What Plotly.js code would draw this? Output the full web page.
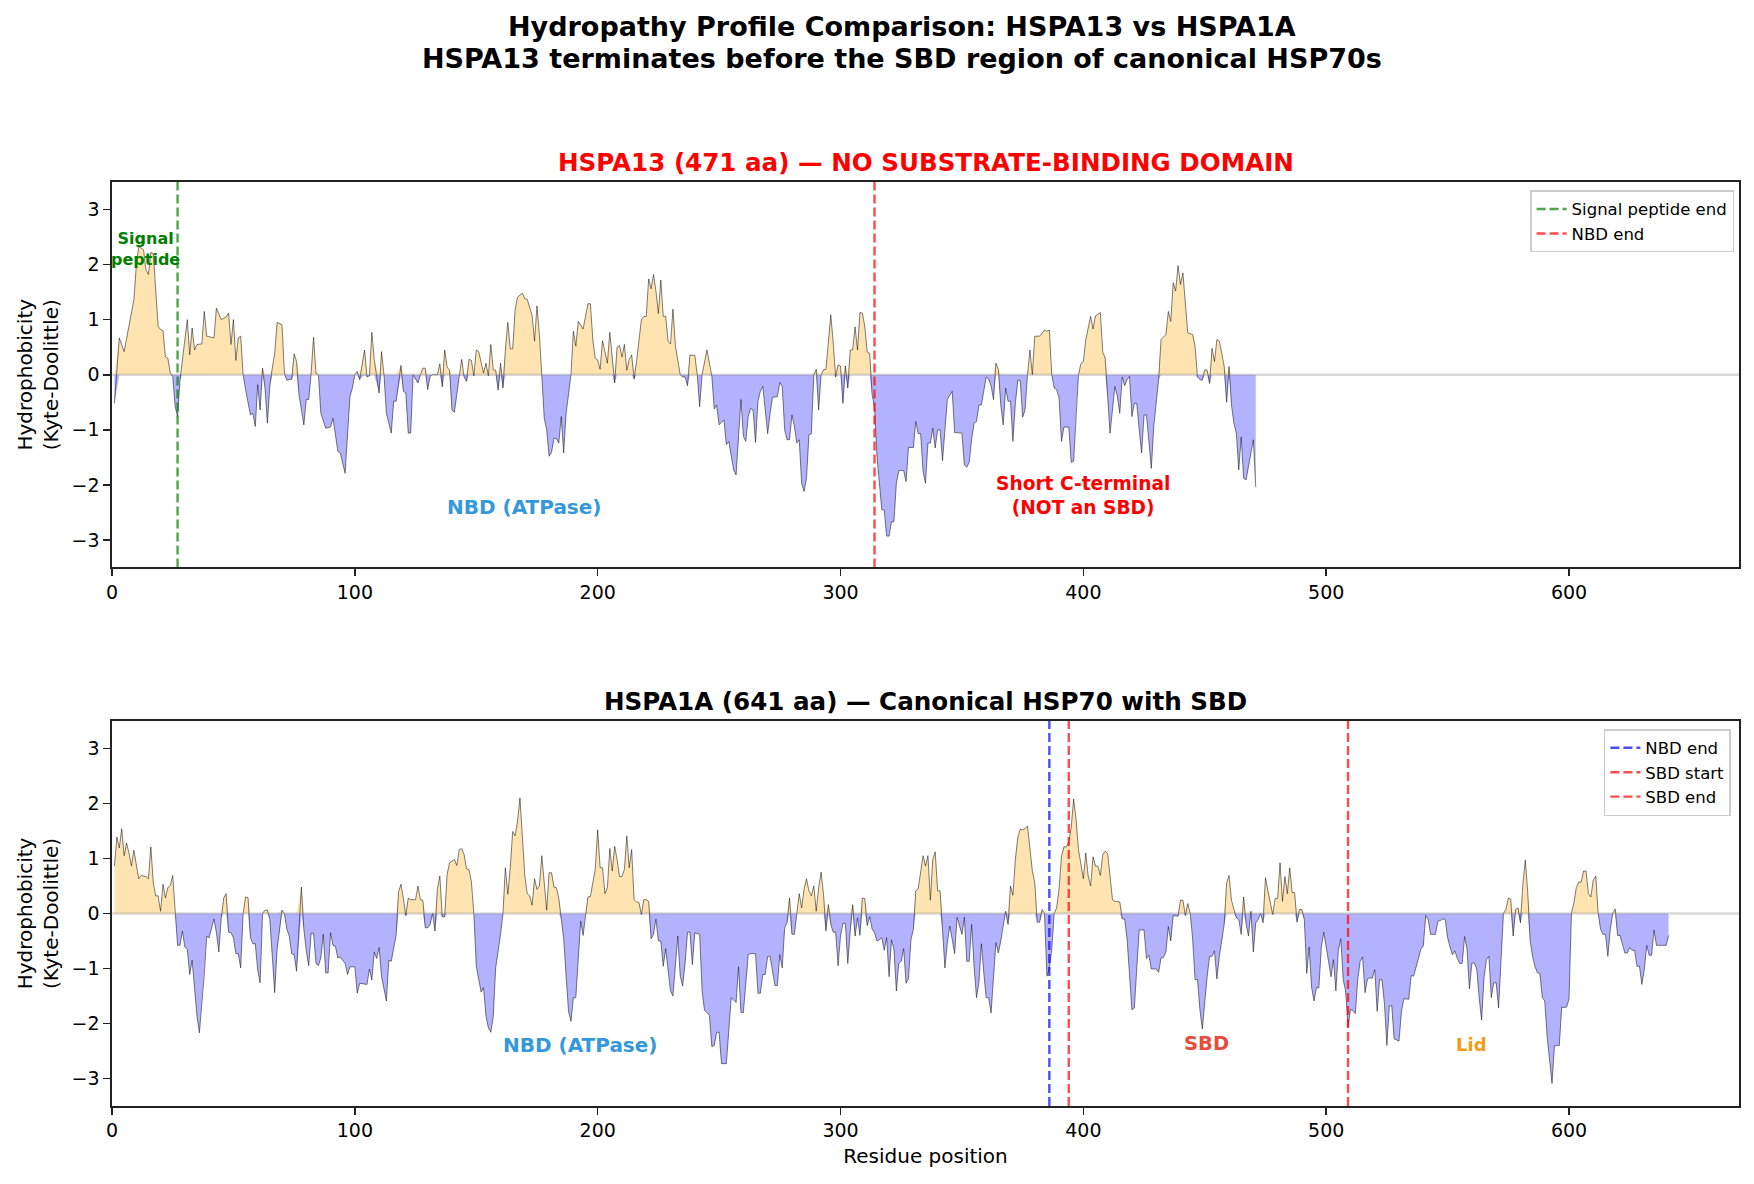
<!DOCTYPE html>
<html>
<head>
<meta charset="utf-8">
<script src="https://cdn.plot.ly/plotly-3.0.1.min.js"></script>
<style>body{margin:0;background:#fff}</style>
</head>
<body>
<div id="plot" style="width:1754px;height:1184px"></div>
<script>
// Kyte-Doolittle profiles: [residue, hydrophobicity]
const hspa13Profile = [[1,-0.52],[3,0.67],[5,0.42],[7,0.91],[9,1.36],[10,1.97],[11,2.33],[13,2.27],[14,1.9],[15,1.82],[16,2.22],[17,2.2],[19,0.88],[20,0.82],[21,0.8],[22,0.32],[23,0.3],[24,0.03],[25,-0.03],[26,-0.58],[27,-0.76],[28,-0.1],[29,0.24],[31,1.0],[32,0.36],[33,0.85],[34,0.45],[35,0.55],[37,0.56],[38,1.15],[39,0.7],[42,0.67],[43,1.21],[45,1.0],[47,1.05],[48,1.12],[49,0.55],[50,1.0],[51,0.26],[52,0.67],[53,0.7],[54,0.0],[55,-0.27],[57,-0.73],[58,-0.7],[59,-0.94],[60,-0.18],[61,-0.64],[62,0.12],[63,-0.24],[64,-0.88],[65,-0.21],[66,0.12],[67,0.39],[68,0.95],[70,0.91],[71,0.03],[72,-0.1],[74,-0.08],[75,0.38],[76,0.24],[77,-0.36],[79,-0.91],[80,-0.45],[81,-0.45],[82,0.03],[83,0.68],[84,0.03],[85,0.0],[86,-0.7],[88,-0.97],[90,-0.95],[91,-0.79],[93,-1.39],[94,-1.42],[96,-1.79],[98,-0.39],[99,-0.24],[100,0.0],[101,0.06],[102,-0.09],[104,0.45],[105,-0.04],[106,-0.02],[107,0.77],[108,0.27],[110,-0.33],[111,0.42],[112,0.0],[113,-0.7],[115,-1.06],[116,-0.48],[117,-0.48],[119,0.17],[120,-0.3],[121,-0.33],[122,-1.06],[123,-1.06],[124,0.0],[125,-0.09],[126,-0.15],[127,0.0],[128,0.12],[129,0.12],[130,-0.27],[131,-0.03],[132,0.0],[134,0.0],[135,0.2],[136,-0.22],[137,0.45],[138,0.14],[139,0.08],[140,-0.64],[141,-0.68],[143,-0.03],[144,0.28],[145,-0.04],[146,-0.12],[147,0.28],[148,0.26],[149,-0.02],[150,0.45],[151,0.42],[153,0.03],[154,0.21],[155,-0.02],[156,0.55],[157,0.09],[158,0.08],[159,-0.28],[160,0.21],[161,-0.24],[162,0.45],[163,0.95],[164,0.47],[165,0.47],[166,1.18],[167,1.41],[169,1.48],[170,1.38],[171,1.37],[173,1.07],[174,0.61],[175,1.25],[176,0.73],[177,0.0],[178,-0.79],[179,-1.0],[180,-1.48],[181,-1.41],[182,-1.15],[183,-1.16],[184,-1.24],[185,-0.76],[186,-1.42],[187,-0.7],[189,0.0],[190,0.79],[191,0.52],[192,0.97],[194,0.83],[196,1.29],[197,1.29],[198,0.64],[199,0.3],[200,0.27],[201,0.1],[202,0.62],[203,0.39],[204,0.21],[205,0.77],[206,0.3],[207,-0.15],[208,0.5],[209,0.53],[210,0.32],[211,0.55],[212,0.08],[213,0.28],[214,0.36],[215,-0.08],[216,0.24],[218,1.0],[219,1.06],[220,1.06],[221,1.74],[222,1.56],[223,1.82],[224,1.52],[225,1.11],[226,1.72],[227,1.06],[228,1.06],[229,0.61],[230,0.56],[231,1.19],[232,0.53],[234,0.0],[235,-0.04],[236,-0.04],[237,-0.2],[238,0.36],[240,0.35],[241,0.0],[242,-0.58],[243,0.0],[244,0.22],[245,0.45],[247,-0.02],[248,-0.62],[249,-0.55],[250,-0.91],[252,-0.82],[253,-1.27],[254,-1.21],[256,-1.73],[257,-1.82],[259,-0.45],[260,-1.12],[261,-1.21],[262,-0.76],[263,-0.61],[264,-0.64],[265,-1.23],[266,-0.48],[267,-0.3],[268,-0.21],[269,-0.7],[270,-1.07],[271,-0.7],[272,-0.41],[274,-0.4],[275,-0.14],[276,-0.21],[277,-1.0],[278,-1.18],[279,-1.18],[280,-0.73],[281,-0.93],[282,-1.24],[283,-1.18],[284,-1.97],[285,-2.12],[286,-1.88],[287,-1.09],[288,-1.07],[289,0.0],[290,0.1],[291,-0.64],[292,0.0],[293,0.09],[294,0.1],[296,1.09],[297,0.58],[298,-0.04],[299,0.18],[300,0.16],[301,-0.52],[302,0.16],[303,-0.24],[304,0.45],[305,0.45],[306,0.87],[307,0.45],[308,1.13],[309,1.12],[310,0.88],[311,0.41],[312,0.39],[313,-0.36],[314,-0.58],[315,-1.48],[316,-2.03],[317,-2.45],[318,-2.46],[319,-2.93],[320,-2.93],[321,-2.67],[322,-2.67],[323,-1.97],[324,-1.74],[326,-1.74],[327,-1.94],[328,-1.32],[330,-1.32],[331,-0.85],[332,-1.07],[333,-1.07],[334,-1.76],[335,-1.97],[336,-1.24],[337,-1.24],[338,-0.97],[339,-1.33],[340,-1.0],[341,-1.0],[342,-1.56],[343,-1.0],[344,-0.45],[346,-0.3],[347,-1.05],[350,-1.06],[351,-1.64],[352,-1.68],[353,-1.59],[354,-1.17],[355,-0.88],[356,-0.85],[357,-0.55],[358,-0.55],[360,-0.04],[361,-0.08],[362,-0.2],[363,-0.45],[364,0.21],[365,0.1],[366,-0.55],[367,-0.91],[368,-0.24],[369,-0.48],[370,-0.48],[371,-1.21],[372,-0.52],[373,-0.1],[374,-0.1],[375,-0.77],[376,-0.64],[377,0.0],[378,0.45],[379,0.0],[380,0.7],[382,0.7],[384,0.81],[385,0.79],[386,0.81],[387,0.0],[388,-0.24],[389,-0.27],[390,-0.42],[391,-1.21],[392,-0.95],[394,-0.95],[395,-1.59],[396,-1.57],[397,-0.67],[398,0.0],[399,0.2],[400,0.24],[401,0.64],[402,0.83],[403,1.06],[404,0.83],[405,1.07],[407,1.13],[408,0.41],[409,0.3],[410,-0.42],[411,-1.06],[413,-0.21],[414,-0.39],[415,-0.7],[416,-0.04],[417,-0.2],[418,-0.09],[419,-0.03],[420,-0.76],[421,-0.52],[422,-0.52],[423,-1.0],[424,-1.42],[425,-0.73],[426,-0.73],[427,-1.21],[428,-1.7],[429,-0.94],[431,-0.09],[432,0.64],[434,0.73],[435,1.15],[436,0.97],[437,1.67],[438,1.52],[439,1.98],[440,1.64],[441,1.85],[443,0.76],[445,0.73],[446,0.52],[447,-0.04],[448,-0.09],[449,-0.1],[450,0.09],[451,0.08],[452,-0.16],[453,0.48],[454,0.24],[455,0.64],[456,0.61],[457,0.39],[458,0.15],[459,-0.5],[460,0.15],[461,-0.55],[462,-0.88],[463,-1.06],[464,-1.73],[465,-1.13],[466,-1.88],[467,-1.91],[468,-1.64],[470,-1.18],[471,-2.04]]

const hspa1aProfile = [[1,0.86],[2,1.39],[3,1.19],[4,1.54],[5,1.05],[6,1.28],[7,1.1],[8,0.86],[9,1.15],[10,0.89],[11,0.63],[12,0.69],[14,0.67],[15,0.63],[16,1.21],[17,0.56],[18,0.32],[19,0.32],[20,0.04],[21,0.53],[22,0.28],[23,0.47],[24,0.51],[25,0.69],[26,0.0],[27,-0.58],[28,-0.58],[29,-0.32],[30,-0.61],[31,-0.65],[32,-1.11],[33,-0.85],[35,-1.87],[36,-2.17],[38,-1.11],[39,-0.42],[40,-0.44],[42,-0.1],[43,-0.35],[44,-0.7],[45,-0.08],[46,0.28],[47,0.36],[48,-0.34],[49,-0.35],[50,-0.44],[51,-0.73],[52,-0.73],[53,-0.99],[54,0.0],[55,0.3],[56,0.29],[57,-0.44],[58,-0.55],[59,-0.55],[60,-1.03],[61,-1.26],[62,0.0],[63,0.06],[64,0.06],[65,-0.11],[67,-1.44],[68,-0.65],[70,0.06],[71,0.0],[72,-0.29],[73,-0.41],[74,-0.73],[75,-0.75],[76,-1.05],[78,0.48],[79,-0.29],[80,-0.68],[81,-0.95],[82,-0.36],[83,-0.36],[84,-0.91],[85,-0.95],[86,-0.81],[87,-0.38],[88,-1.08],[89,-1.08],[90,-0.35],[91,-0.58],[92,-0.6],[93,-0.81],[94,-0.79],[95,-0.85],[96,-0.91],[97,-1.11],[98,-0.97],[100,-0.97],[101,-1.45],[102,-1.27],[105,-1.29],[106,-1.01],[107,-1.21],[108,-0.7],[109,-0.82],[110,-0.62],[111,-1.15],[113,-1.59],[114,-0.85],[115,-0.87],[117,-0.4],[118,0.39],[119,0.53],[120,0.27],[121,-0.04],[122,0.28],[123,0.25],[125,0.25],[126,0.5],[127,0.25],[128,0.24],[129,-0.26],[130,-0.26],[131,-0.2],[132,0.0],[133,-0.32],[134,0.45],[135,0.68],[136,-0.06],[137,-0.06],[138,0.71],[139,0.92],[141,0.98],[142,0.87],[143,1.16],[144,1.18],[145,1.07],[146,0.81],[147,0.8],[148,0.57],[149,0.0],[150,-0.96],[151,-1.2],[152,-1.43],[153,-1.35],[154,-1.87],[155,-2.08],[156,-2.16],[157,-1.87],[158,-0.99],[160,-0.38],[161,0.0],[162,0.83],[163,0.35],[164,0.83],[165,1.49],[166,1.41],[167,1.68],[168,2.1],[169,1.41],[170,0.68],[171,0.36],[172,0.32],[173,0.15],[174,0.63],[175,0.44],[176,0.5],[177,1.05],[178,0.5],[179,0.06],[180,0.74],[181,0.74],[182,0.48],[183,0.47],[184,0.27],[185,-0.1],[186,-0.46],[187,-1.14],[188,-1.78],[189,-1.96],[190,-1.53],[191,-1.53],[192,-0.9],[193,-0.14],[194,-0.4],[195,0.0],[196,0.3],[197,0.31],[199,0.8],[200,1.52],[201,0.83],[202,0.83],[203,0.36],[204,0.47],[205,1.18],[206,0.77],[207,1.22],[208,0.98],[209,0.67],[210,0.67],[211,0.8],[212,1.41],[213,0.83],[214,1.16],[215,0.25],[216,0.21],[217,0.2],[218,-0.02],[219,0.25],[220,0.25],[221,0.22],[222,-0.46],[223,-0.38],[224,-0.1],[225,-0.5],[226,-0.5],[227,-0.96],[228,-0.64],[229,-1.05],[230,-1.41],[231,-1.5],[232,-1.02],[233,-0.41],[234,-1.14],[235,-1.32],[236,-0.91],[237,-0.34],[238,-0.34],[239,-0.93],[240,-0.35],[242,-0.38],[243,-1.41],[244,-1.76],[246,-1.85],[247,-2.42],[248,-2.4],[249,-2.16],[250,-2.16],[251,-2.73],[253,-2.73],[255,-1.53],[257,-1.62],[258,-0.97],[259,-1.8],[260,-1.8],[262,-0.75],[263,-0.73],[265,-0.73],[266,-1.45],[267,-1.45],[268,-1.11],[269,-1.11],[270,-0.78],[271,-0.78],[272,-1.07],[273,-1.31],[274,-1.31],[275,-0.75],[276,-0.99],[277,-0.26],[278,-0.17],[279,0.28],[280,-0.38],[281,-0.38],[282,0.0],[283,0.36],[284,0.1],[285,0.44],[286,0.63],[287,0.41],[288,0.32],[289,0.5],[290,0.04],[291,0.47],[292,0.75],[293,0.35],[294,-0.32],[295,0.16],[296,-0.2],[297,-0.34],[298,-0.34],[299,-0.95],[300,-0.41],[301,-0.18],[302,-0.18],[303,-0.91],[304,-0.32],[305,0.16],[306,-0.41],[307,-0.08],[308,-0.4],[309,0.28],[310,0.27],[311,-0.22],[312,-0.06],[313,-0.28],[314,-0.35],[315,-0.5],[316,-0.48],[317,-0.44],[318,-0.67],[319,-0.44],[320,-1.15],[321,-0.48],[322,-0.65],[323,-1.41],[324,-0.91],[325,-0.87],[326,-0.64],[327,-1.27],[328,-1.19],[329,-0.48],[330,-0.29],[331,0.41],[332,0.45],[333,0.75],[334,1.05],[335,0.86],[336,1.05],[337,0.24],[338,0.98],[339,1.12],[340,0.41],[341,0.41],[342,-0.29],[343,-0.99],[344,-0.53],[345,-0.23],[346,-0.47],[347,-0.73],[348,-0.07],[349,-0.23],[350,-0.38],[351,-0.07],[352,-0.87],[353,-0.87],[354,-0.2],[355,-0.96],[356,-1.53],[357,-1.26],[358,-0.55],[359,-1.08],[360,-1.53],[361,-1.53],[362,-1.81],[364,-0.53],[365,-0.72],[366,-0.5],[367,-0.2],[368,0.04],[369,-0.2],[370,0.5],[371,0.33],[372,0.98],[373,1.38],[374,1.53],[375,1.52],[376,1.54],[377,1.59],[378,1.22],[379,0.77],[380,0.56],[381,-0.16],[382,-0.16],[383,0.07],[384,0.0],[385,-1.14],[386,-1.0],[387,-0.65],[388,0.0],[389,0.1],[390,0.44],[391,1.04],[392,1.21],[393,1.21],[394,1.3],[395,1.56],[396,2.08],[397,1.71],[398,1.16],[400,0.63],[401,1.1],[402,0.68],[403,0.5],[404,1.03],[405,0.86],[406,0.86],[407,0.69],[408,1.07],[409,1.13],[410,1.09],[411,0.68],[412,0.25],[413,0.22],[415,0.21],[416,-0.1],[417,-0.1],[418,-0.46],[419,-1.11],[420,-1.75],[421,-1.72],[422,-0.99],[423,-0.3],[425,-0.3],[426,-0.82],[427,-0.76],[428,-1.01],[430,-1.01],[431,-1.07],[432,-0.81],[433,-0.8],[434,-0.7],[435,-0.24],[436,-0.5],[437,-0.04],[439,-0.05],[440,0.24],[441,0.24],[442,-0.04],[443,0.18],[444,0.0],[445,-0.46],[446,-1.2],[447,-1.2],[448,-1.75],[449,-2.1],[450,-1.59],[451,-1.14],[452,-0.78],[453,-0.78],[454,-0.68],[455,-1.19],[456,-0.78],[457,-0.47],[458,-0.2],[459,0.56],[460,0.69],[461,0.24],[462,0.07],[463,-0.08],[464,-0.11],[465,-0.38],[466,0.3],[467,-0.18],[468,-0.41],[469,0.04],[470,-0.7],[471,-0.17],[472,-0.11],[473,0.0],[474,-0.17],[475,0.65],[476,0.41],[477,0.19],[478,-0.02],[479,0.27],[480,0.27],[481,0.92],[482,0.22],[483,0.67],[484,0.36],[485,0.83],[486,0.38],[487,0.38],[488,-0.16],[489,0.07],[490,0.07],[491,-0.11],[492,-1.09],[493,-0.61],[494,-1.35],[495,-1.59],[496,-1.35],[497,-1.35],[498,-0.62],[499,-0.34],[500,-0.62],[501,-0.85],[502,-1.15],[503,-0.84],[504,-1.41],[505,-0.68],[506,-0.46],[507,-1.2],[508,-1.41],[509,-2.06],[510,-1.75],[511,-1.76],[512,-1.82],[513,-1.2],[514,-0.87],[515,-0.79],[516,-1.44],[517,-1.19],[518,-1.17],[519,-1.18],[520,-1.02],[521,-1.78],[522,-1.2],[523,-1.21],[524,-1.65],[525,-2.4],[526,-1.68],[527,-1.68],[528,-2.28],[530,-2.32],[531,-1.78],[532,-1.55],[534,-1.56],[535,-1.13],[536,-1.14],[538,-0.82],[539,-0.65],[540,-0.59],[541,-0.04],[542,-0.11],[543,-0.38],[545,-0.38],[546,-0.14],[547,-0.13],[548,-0.1],[549,-0.11],[550,-0.44],[551,-0.61],[552,-0.75],[553,-0.68],[554,-0.82],[555,-0.91],[556,-0.91],[557,-0.42],[558,-0.65],[559,-1.37],[560,-0.9],[561,-0.9],[562,-1.01],[563,-1.53],[564,-1.94],[565,-1.17],[566,-0.84],[567,-0.78],[568,-1.53],[569,-1.26],[570,-1.26],[571,-1.72],[572,-0.79],[573,0.0],[574,0.07],[575,0.28],[576,0.26],[577,-0.41],[578,0.07],[579,0.1],[580,-0.17],[581,0.53],[582,0.97],[583,0.38],[584,-0.5],[585,-0.78],[586,-0.97],[587,-1.08],[588,-1.09],[589,-1.53],[590,-1.59],[591,-2.24],[593,-3.09],[594,-2.41],[595,-2.4],[596,-2.4],[597,-1.7],[598,-1.71],[599,-1.7],[600,-1.56],[601,0.0],[602,0.19],[603,0.47],[604,0.57],[605,0.57],[606,0.77],[607,0.77],[608,0.36],[609,0.3],[610,0.61],[611,0.68],[612,0.0],[613,-0.29],[614,-0.38],[615,-0.38],[616,-0.78],[617,-0.29],[618,0.0],[619,0.08],[620,-0.4],[621,-0.4],[622,-0.56],[623,-0.72],[624,-0.72],[625,-0.62],[626,-0.67],[627,-0.67],[628,-0.96],[629,-0.96],[630,-1.29],[631,-1.02],[632,-0.58],[633,-0.76],[634,-0.76],[635,-0.3],[636,-0.58],[637,-0.58],[638,-0.57],[639,-0.58],[640,-0.58],[641,-0.4]]

// domain boundaries (residue numbers)
const signalEnd13 = 27
const nbdEnd13 = 314
const nbdEnd1A = 386
const sbdStart1A = 394
const sbdEnd1A = 509

const xTicks = [0, 100, 200, 300, 400, 500, 600]
const yTicks = [-3, -2, -1, 0, 1, 2, 3]
const yRange = [-3.5, 3.5]

const titleLines = ['Hydropathy Profile Comparison: HSPA13 vs HSPA1A',
	'HSPA13 terminates before the SBD region of canonical HSP70s']

const FONT = 'DejaVu Sans'

function profileTraces(profile, xa, ya) {
	const xs = profile.map(function (p) { return p[0] })
	const ys = profile.map(function (p) { return p[1] })
	const common = {x: xs, xaxis: xa, yaxis: ya, type: 'scatter', mode: 'lines', hoverinfo: 'skip', showlegend: false}
	return [
		Object.assign({}, common, {
			y: ys.map(function (v) { return Math.max(v, 0) }),
			fill: 'tozeroy', fillcolor: 'rgba(255,165,0,0.3)',
			line: {width: 0, color: 'rgba(0,0,0,0)'}
		}),
		Object.assign({}, common, {
			y: ys.map(function (v) { return Math.min(v, 0) }),
			fill: 'tozeroy', fillcolor: 'rgba(0,0,255,0.3)',
			line: {width: 0, color: 'rgba(0,0,0,0)'}
		}),
		Object.assign({}, common, {
			y: ys,
			line: {width: 1, color: 'rgba(0,0,0,0.5)'}
		})
	]
}

function vline(x, name, color, xa, ya, legend) {
	return {
		x: [x, x], y: yRange, xaxis: xa, yaxis: ya, type: 'scatter', mode: 'lines',
		name: name, legend: legend, hoverinfo: 'skip',
		line: {color: color, width: 2.4, dash: '9px,4px'}
	}
}

var data = []
data = data.concat(profileTraces(hspa13Profile, 'x', 'y'))
data.push(vline(signalEnd13, 'Signal peptide end', 'rgba(0,128,0,0.7)', 'x', 'y', 'legend'))
data.push(vline(nbdEnd13, 'NBD end', 'rgba(255,0,0,0.7)', 'x', 'y', 'legend'))
data = data.concat(profileTraces(hspa1aProfile, 'x2', 'y2'))
data.push(vline(nbdEnd1A, 'NBD end', 'rgba(0,0,255,0.7)', 'x2', 'y2', 'legend2'))
data.push(vline(sbdStart1A, 'SBD start', 'rgba(255,0,0,0.7)', 'x2', 'y2', 'legend2'))
data.push(vline(sbdEnd1A, 'SBD end', 'rgba(255,0,0,0.7)', 'x2', 'y2', 'legend2'))

function xAxis(anchor, title) {
	var ax = {
		domain: [0, 1], range: [0, 670], anchor: anchor,
		tickmode: 'array', tickvals: xTicks,
		ticks: 'outside', ticklen: 7, tickwidth: 1.6, tickcolor: '#222',
		showline: true, linecolor: '#222', linewidth: 1.6, mirror: true,
		showgrid: false, zeroline: false,
		tickfont: {family: FONT, size: 19, color: '#000'}
	}
	if (title) ax.title = {text: title, font: {family: FONT, size: 20, color: '#000'}, standoff: 8}
	return ax
}

function yAxis(anchor, domain) {
	return {
		domain: domain, range: yRange, anchor: anchor,
		tickmode: 'array', tickvals: yTicks,
		ticks: 'outside', ticklen: 7, tickwidth: 1.6, tickcolor: '#222',
		showline: true, linecolor: '#222', linewidth: 1.6, mirror: true,
		showgrid: false, zeroline: false,
		tickfont: {family: FONT, size: 19, color: '#000'},
		title: {text: 'Hydrophobicity<br>(Kyte-Doolittle)', font: {family: FONT, size: 20, color: '#000'}, standoff: 7}
	}
}

function zeroLine(xa, ya) {
	return {type: 'line', xref: xa + ' domain', x0: 0, x1: 1, yref: ya, y0: 0, y1: 0,
		line: {color: 'rgba(128,128,128,0.3)', width: 2.6}, layer: 'above'}
}

function label(text, x, y, xa, ya, color, size) {
	return {text: text, x: x, y: y, xref: xa, yref: ya, showarrow: false,
		xanchor: 'center', yanchor: 'middle',
		font: {family: FONT, size: size, color: color, weight: 'bold'}}
}

function headline(text, y, color) {
	return {text: text, xref: 'paper', yref: 'paper', x: 0.4856, y: y,
		xanchor: 'center', yanchor: 'middle', showarrow: false,
		font: {family: FONT, size: 27, color: color, weight: 'bold'}}
}

const legendStyle = {
	xanchor: 'right', yanchor: 'top', bgcolor: 'rgba(255,255,255,0.8)',
	bordercolor: '#cccccc', borderwidth: 1.5, itemwidth: 30, tracegroupgap: 0,
	font: {family: FONT, size: 16.5, color: '#000'}
}

const layout = {
	width: 1754, height: 1184,
	paper_bgcolor: '#fff', plot_bgcolor: '#fff',
	font: {family: FONT, color: '#000'},
	margin: {l: 112, r: 15, t: 182, b: 78},
	xaxis: xAxis('y'),
	yaxis: yAxis('x', [0.5828, 1]),
	xaxis2: xAxis('y2', 'Residue position'),
	yaxis2: yAxis('x2', [0, 0.4168]),
	legend: Object.assign({x: 0.997, y: 0.991}, legendStyle),
	legend2: Object.assign({x: 0.995, y: 0.408}, legendStyle),
	shapes: [zeroLine('x', 'y'), zeroLine('x2', 'y2')],
	annotations: [
		headline(titleLines[0], 1.1681, '#000'),
		headline(titleLines[1], 1.1339, '#000'),
		{text: 'HSPA13 (471 aa) \u2014 NO SUBSTRATE-BINDING DOMAIN', xref: 'paper', yref: 'paper',
			x: 0.5, y: 1.0216, xanchor: 'center', yanchor: 'middle', showarrow: false,
			font: {family: FONT, size: 24.6, color: '#ff0000', weight: 'bold'}},
		{text: 'HSPA1A (641 aa) \u2014 Canonical HSP70 with SBD', xref: 'paper', yref: 'paper',
			x: 0.5, y: 0.4377, xanchor: 'center', yanchor: 'middle', showarrow: false,
			font: {family: FONT, size: 24.6, color: '#000', weight: 'bold'}},
		label('Signal<br>peptide', 13.8, 2.28, 'x', 'y', '#008000', 16),
		label('NBD (ATPase)', 169.6, -2.4, 'x', 'y', '#3498db', 20),
		label('Short C-terminal<br>(NOT an SBD)', 399.7, -2.2, 'x', 'y', '#ff0000', 18.6),
		label('NBD (ATPase)', 192.6, -2.4, 'x2', 'y2', '#3498db', 20),
		label('SBD', 450.6, -2.37, 'x2', 'y2', '#e74c3c', 19.5),
		label('Lid', 560, -2.38, 'x2', 'y2', '#f39c12', 18)
	]
}

Plotly.newPlot('plot', data, layout, {staticPlot: true})
</script>
</body>
</html>
